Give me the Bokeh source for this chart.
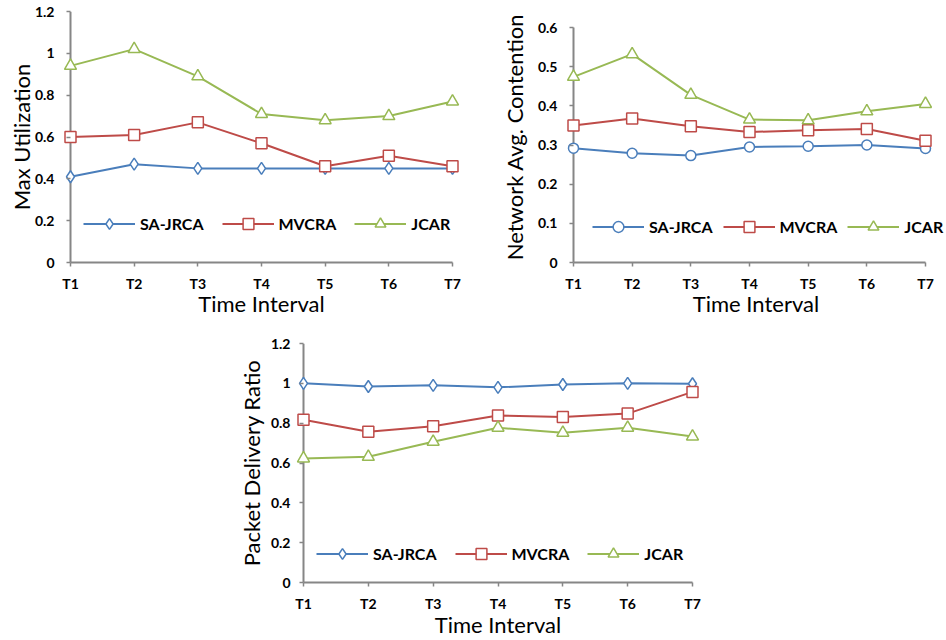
from bokeh.plotting import figure
from bokeh.models import Range1d, FixedTicker, Legend, LegendItem, Spacer
from bokeh.layouts import column, row
from bokeh.embed import file_html
from bokeh.resources import INLINE

# ---------------- data ----------------
intervals = ["T1", "T2", "T3", "T4", "T5", "T6", "T7"]
series_names = ["SA-JRCA", "MVCRA", "JCAR"]

util_sa = [0.41, 0.47, 0.45, 0.45, 0.45, 0.45, 0.45]
util_mv = [0.60, 0.61, 0.67, 0.57, 0.46, 0.51, 0.46]
util_jc = [0.94, 1.02, 0.89, 0.71, 0.68, 0.70, 0.77]

cont_sa = [0.292, 0.279, 0.273, 0.295, 0.297, 0.300, 0.291]
cont_mv = [0.350, 0.368, 0.348, 0.333, 0.338, 0.341, 0.311]
cont_jc = [0.474, 0.532, 0.428, 0.365, 0.363, 0.386, 0.405]

pdr_sa = [1.00, 0.984, 0.990, 0.980, 0.994, 1.00, 0.998]
pdr_mv = [0.817, 0.757, 0.785, 0.838, 0.831, 0.848, 0.957]
pdr_jc = [0.623, 0.631, 0.707, 0.777, 0.752, 0.777, 0.733]

y_ticks_12 = [0, 0.2, 0.4, 0.6, 0.8, 1.0, 1.2]
y_labels_12 = ["0", "0.2", "0.4", "0.6", "0.8", "1", "1.2"]
y_ticks_06 = [0, 0.1, 0.2, 0.3, 0.4, 0.5, 0.6]
y_labels_06 = ["0", "0.1", "0.2", "0.3", "0.4", "0.5", "0.6"]

# ---------------- style ----------------
BLUE = "#4A7EBB"
RED = "#BE4B48"
GREEN = "#98B954"
AXIS = "#868686"
FONT = "Lato"
PAD = 8  # px between frame edge and the first category


def make_chart(width, height, t1_px, t7_px, frame_right, top, bottom,
               y_range_end, ticks, tick_labels, ylabel,
               values, first_marker, first_size, legend_xy, legend_spacing,
               ytick_standoff, ylab_standoff, xlab_standoff):
    n = len(intervals)
    ppu = (t7_px - t1_px) / (n - 1)
    x_start = -PAD / ppu
    x_end = (n - 1) + (frame_right - t7_px) / ppu
    p = figure(width=width, height=height, output_backend="svg", toolbar_location=None,
               x_range=Range1d(x_start, x_end), y_range=Range1d(0, y_range_end),
               min_border_left=t1_px - PAD, min_border_right=width - frame_right,
               min_border_top=top, min_border_bottom=bottom)
    p.title.visible = False
    p.outline_line_color = None
    p.grid.visible = False
    p.background_fill_color = "white"
    p.border_fill_color = "white"

    for ax in (p.xaxis[0], p.yaxis[0]):
        ax.axis_line_color = AXIS
        ax.axis_line_width = 2
        ax.major_tick_line_color = AXIS
        ax.major_tick_line_width = 1.5
        ax.major_tick_out = 4
        ax.major_tick_in = 0
        ax.minor_tick_line_color = None
        ax.major_label_text_font = FONT
        ax.major_label_text_font_style = "bold"
        ax.major_label_text_font_size = "14px"
        ax.major_label_text_color = "black"
        ax.axis_label_text_font = FONT
        ax.axis_label_text_font_style = "normal"
        ax.axis_label_text_font_size = "22px"
        ax.axis_label_text_color = "black"

    xs = list(range(n))
    p.xaxis.ticker = FixedTicker(ticks=xs)
    p.xaxis.major_label_overrides = {i: t for i, t in zip(xs, intervals)}
    p.xaxis.axis_label = "Time Interval"
    p.xaxis.major_label_standoff = 8
    p.xaxis.axis_label_standoff = xlab_standoff
    p.xaxis.bounds = (0, n - 1)

    # y axis: its line is drawn at the first category; ticks shifted onto it
    p.yaxis.ticker = FixedTicker(ticks=ticks)
    p.yaxis.major_label_overrides = {t: l for t, l in zip(ticks, tick_labels)}
    p.yaxis.axis_label = ylabel
    p.yaxis.axis_line_color = None
    p.yaxis.major_tick_in = PAD
    p.yaxis.major_tick_out = -4
    p.yaxis.major_label_standoff = ytick_standoff
    p.yaxis.axis_label_standoff = ylab_standoff
    p.segment(x0=[0], y0=[ticks[0]], x1=[0], y1=[ticks[-1]],
              line_color=AXIS, line_width=2)

    colors = [BLUE, RED, GREEN]
    markers = [first_marker, "square", "triangle"]
    sizes = [first_size, 11, 12]
    items = []
    for name, vals, c, m, s in zip(series_names, values, colors, markers, sizes):
        lr = p.line(xs, vals, line_color=c, line_width=2)
        sr = p.scatter(xs, vals, marker=m, size=s, line_color=c, fill_color="white",
                       line_width=1.5)
        items.append(LegendItem(label=name, renderers=[lr, sr]))

    legend = Legend(items=items, orientation="horizontal", location=legend_xy,
                    glyph_width=52, glyph_height=27, label_standoff=5,
                    spacing=legend_spacing,
                    padding=0, margin=0, border_line_color=None,
                    background_fill_alpha=0,
                    label_text_font=FONT, label_text_font_style="bold",
                    label_text_font_size="16px", label_text_color="black")
    p.add_layout(legend)
    return p


p1 = make_chart(470, 320, 70, 452, 460, 11, 58, 1.2, y_ticks_12, y_labels_12,
                "Max Utilization", [util_sa, util_mv, util_jc], "diamond", 12,
                (21, 25), 18, 8, -3, -5)
p2 = make_chart(476, 320, 103, 455, 476, 11, 58, 0.641, y_ticks_06, y_labels_06,
                "Network Avg. Contention", [cont_sa, cont_mv, cont_jc], "circle", 10,
                (27, 22), 10, 8, 7, -5)
p3 = make_chart(480, 320, 73, 462, 470, 23, 58, 1.2, y_ticks_12, y_labels_12,
                "Packet Delivery Ratio", [pdr_sa, pdr_mv, pdr_jc], "diamond", 12,
                (21, 15), 18, 5, 3, -4)

layout = column(row(p1, p2), row(Spacer(width=230, height=320), p3))

open("out.html", "w").write(file_html(layout, INLINE))
